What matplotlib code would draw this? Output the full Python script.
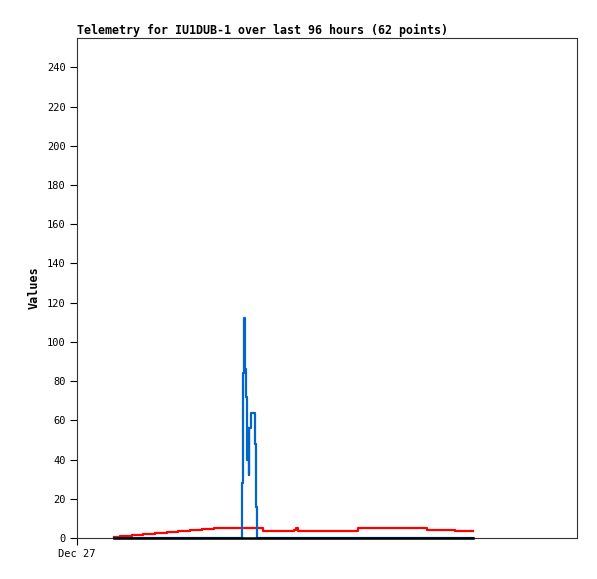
import matplotlib
matplotlib.use("Agg")
import matplotlib.pyplot as plt

# hours since Dec 27 00:00
hours = [7.10, 8.26, 10.56, 12.67, 14.98, 17.28, 19.39, 21.70, 24.00, 26.30, 28.61, 30.53,
         31.68, 31.87, 32.01, 32.26, 32.45, 32.58, 32.70, 32.83, 32.93, 33.06, 33.35, 34.18, 34.37, 34.50,
         35.62, 37.06, 38.59, 40.13, 41.66, 42.05, 42.43, 43.20, 43.97, 44.74, 45.50, 46.27, 47.04, 47.81,
         48.58, 49.34, 50.11, 51.65, 53.18, 53.95, 55.49, 57.02, 58.56, 60.10, 61.63, 63.17, 64.70, 66.24,
         67.20, 68.54, 69.89, 71.23, 72.58, 73.73, 74.88, 76.03]

red_vals = ([0.5, 1.0, 1.4, 1.9, 2.4, 2.9, 3.4, 3.9, 4.4, 4.9, 4.9, 4.9]
            + [4.9] * 14
            + [3.8, 3.8, 3.8, 3.8, 4.3, 5.0, 3.8]
            + [3.8] * 12
            + [5.0] + [5.0] * 8
            + [4.3, 4.3, 4.3, 4.3]
            + [3.6, 3.6, 3.6, 3.6])

blue_vals = ([0] * 12
             + [28, 84, 112, 86, 72, 56, 40, 56, 32, 56, 64, 48, 16, 0]
             + [0] * 36)

black_vals = [0] * 62

y_ticks = list(range(0, 241, 20))
x_tick_labels = ["Dec 27"]

mono = "DejaVu Sans Mono"

fig = plt.figure(figsize=(5.97, 5.79), dpi=100)
ax = fig.add_axes([77 / 597, (579 - 538) / 579, 500 / 597, 500 / 579])

ax.plot(hours, red_vals, color="#ff0000", lw=1.6, drawstyle="steps-post", zorder=2, clip_on=False)
ax.plot(hours, blue_vals, color="#0066cc", lw=1.6, drawstyle="steps-post", zorder=3, clip_on=False)
ax.plot(hours, black_vals, color="#000000", lw=1.8, drawstyle="steps-post", zorder=4, clip_on=False)

ax.set_xlim(0, 96)
ax.set_ylim(0, 255)
ax.set_yticks(y_ticks)
ax.set_yticklabels([str(v) for v in y_ticks], fontfamily=mono, fontsize=7.5)
ax.set_xticks([0])
ax.set_xticklabels(x_tick_labels, fontfamily=mono, fontsize=7.5)
ax.tick_params(axis="both", direction="out", length=5, width=0.8, color="black", pad=3)

for s in ax.spines.values():
    s.set_linewidth(0.8)
    s.set_color("#333333")

ax.set_title("Telemetry for IU1DUB-1 over last 96 hours (62 points)",
             fontfamily=mono, fontweight="bold", fontsize=8.4, loc="left", pad=3)
ax.set_ylabel("Values", fontfamily=mono, fontweight="bold", fontsize=8.5, labelpad=5)

fig.savefig("out.png", dpi=100)
